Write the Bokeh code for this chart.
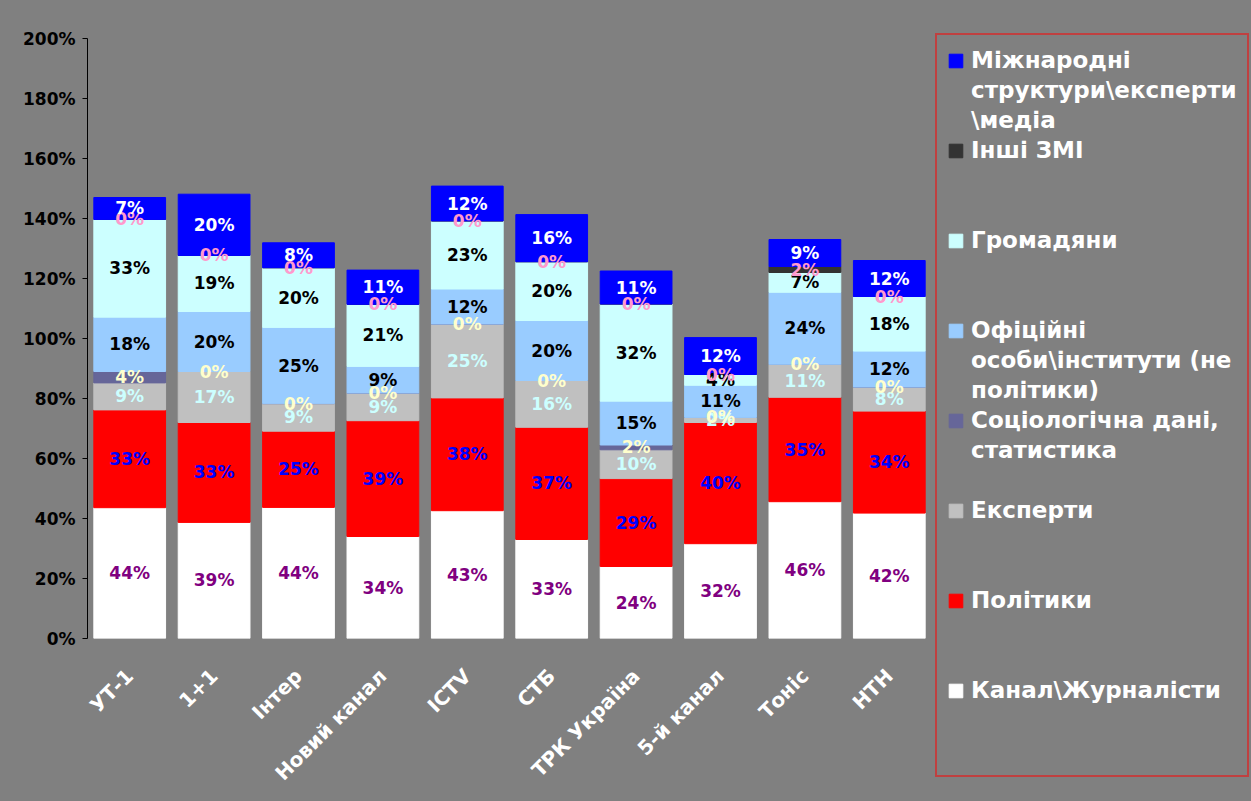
import math
from bokeh.plotting import figure
from bokeh.models import (ColumnDataSource, FactorRange, Range1d, FixedTicker,
                          PrintfTickFormatter, Legend, LegendItem,
                          GlobalInlineStyleSheet)
from bokeh.core.properties import value
from bokeh.embed import file_html
from bokeh.resources import INLINE

# ---------------- data ----------------
channels = ["УТ-1", "1+1", "Інтер", "Новий канал", "ICTV", "СТБ",
            "ТРК Україна", "5-й канал", "Тоніс", "НТН"]

series = ["Канал\\Журналісти", "Політики", "Експерти",
          "Соціологічна дані, статистика",
          "Офіційні особи\\інститути (не політики)", "Громадяни",
          "Інші ЗМІ", "Міжнародні структури\\експерти\\медіа"]

journalists = [43.6, 38.7, 43.7, 34.0, 42.6, 33.0, 24.0, 31.6, 45.6, 41.8]
politicians = [32.6, 33.3, 25.4, 38.6, 37.6, 37.4, 29.3, 40.4, 34.8, 34.0]
experts = [9.0, 17.0, 9.2, 9.2, 24.6, 15.6, 9.6, 1.7, 11.0, 8.0]
sociology = [3.8, 0, 0, 0, 0, 0, 1.6, 0, 0, 0]
officials = [18.1, 20.0, 25.4, 8.9, 11.7, 20.0, 14.6, 10.7, 24.0, 12.0]
citizens = [32.6, 18.7, 19.9, 20.7, 22.7, 19.6, 32.4, 3.6, 6.6, 18.2]
other_media = [0, 0, 0, 0, 0, 0, 0, 0, 2.0, 0]
international = [7.3, 20.4, 8.3, 11.4, 11.6, 15.7, 11.0, 12.3, 9.0, 12.0]

y_ticks = [0, 20, 40, 60, 80, 100, 120, 140, 160, 180, 200]

# legend text, top to bottom, wrapped as in the original legend
legend_lines = [
    ["Міжнародні", "структури\\експерти", "\\медіа"],
    ["Інші ЗМІ"],
    ["Громадяни"],
    ["Офіційні", "особи\\інститути (не", "політики)"],
    ["Соціологічна дані,", "статистика"],
    ["Експерти"],
    ["Політики"],
    ["Канал\\Журналісти"],
]

# ---------------- styles ----------------
values = [journalists, politicians, experts, sociology, officials,
          citizens, other_media, international]
fill_colors = ["#FFFFFF", "#FF0000", "#C0C0C0", "#666699", "#99CCFF",
               "#CCFFFF", "#333333", "#0000FF"]
label_colors = ["#800080", "#0000FF", "#CCFFFF", "#FFFFCC", "#000000",
                "#000000", "#FF99CC", "#FFFFFF"]
BG = "#808080"
FONT = "DejaVu Sans"
ROWS_PER_ENTRY = 3

# ---------------- figure ----------------
p = figure(x_range=FactorRange(factors=channels, range_padding=0),
           y_range=Range1d(0, 200),
           frame_width=844, frame_height=600, output_backend="svg",
           toolbar_location=None, tools="",
           min_border_left=87, min_border_right=0,
           min_border_top=38, min_border_bottom=163)
p.background_fill_color = BG
p.border_fill_color = BG
p.outline_line_color = None
p.xgrid.grid_line_color = None
p.ygrid.grid_line_color = None
p.stylesheets = [GlobalInlineStyleSheet(css="body { background: #808080; }")]

data = {"channel": channels}
for name, vals in zip(series, values):
    data[name] = vals
src = ColumnDataSource(data)
bars = p.vbar_stack(series, x="channel", width=0.85, color=fill_colors,
                    source=src)

# segment labels
lx, ly, lt, lc = [], [], [], []
for i, ch in enumerate(channels):
    base = 0.0
    for k, vals in enumerate(values):
        v = vals[i]
        lx.append(ch)
        ly.append(base + v / 2.0)
        lt.append(f"{round(v)}%")
        lc.append(label_colors[k])
        base += v
lsrc = ColumnDataSource(dict(x=lx, y=ly, t=lt, c=lc))
p.text(x="x", y="y", text="t", text_color="c", source=lsrc,
       text_font=value(FONT), text_font_style="bold", text_font_size="17px",
       text_align="center", text_baseline="middle")

# axes
p.yaxis.ticker = FixedTicker(ticks=y_ticks)
p.yaxis.formatter = PrintfTickFormatter(format="%d%%")
p.yaxis.major_label_text_font = FONT
p.yaxis.major_label_text_font_style = "bold"
p.yaxis.major_label_text_font_size = "17px"
p.yaxis.major_label_text_color = "#000000"
p.yaxis.major_tick_out = 5
p.yaxis.major_tick_in = 0
p.yaxis.minor_tick_line_color = None
p.yaxis.axis_line_color = "#000000"
p.yaxis.major_label_standoff = 7

p.xaxis.major_label_orientation = math.pi / 4
p.xaxis.major_label_text_font = FONT
p.xaxis.major_label_text_font_style = "bold"
p.xaxis.major_label_text_font_size = "20px"
p.xaxis.major_label_text_color = "#FFFFFF"
p.xaxis.axis_line_color = None
p.xaxis.major_tick_line_color = None
p.xaxis.minor_tick_line_color = None
p.xaxis.major_label_standoff = 28

# ---------------- legend ----------------
blank = p.vbar(x=[], top=[], width=0, fill_alpha=0, line_alpha=0)
items = []
for j, k in enumerate(range(len(series) - 1, -1, -1)):
    lines = legend_lines[j]
    items.append(LegendItem(label=lines[0], renderers=[bars[k]]))
    for line in lines[1:]:
        items.append(LegendItem(label=line, renderers=[blank]))
    for _ in range(ROWS_PER_ENTRY - len(lines)):
        items.append(LegendItem(label=" ", renderers=[blank]))

legend = Legend(items=items, location=(4, -139), orientation="vertical",
                glyph_width=17, glyph_height=17, label_height=30,
                label_width=266, label_standoff=7, spacing=0, padding=10,
                margin=3, border_line_color="#FF0000", border_line_width=2.5,
                background_fill_color=BG, background_fill_alpha=1,
                label_text_color="#FFFFFF", label_text_font=FONT,
                label_text_font_style="bold", label_text_font_size="23px",
                label_text_baseline="middle")
p.add_layout(legend, "right")

open("out.html", "w").write(file_html(p, INLINE))
